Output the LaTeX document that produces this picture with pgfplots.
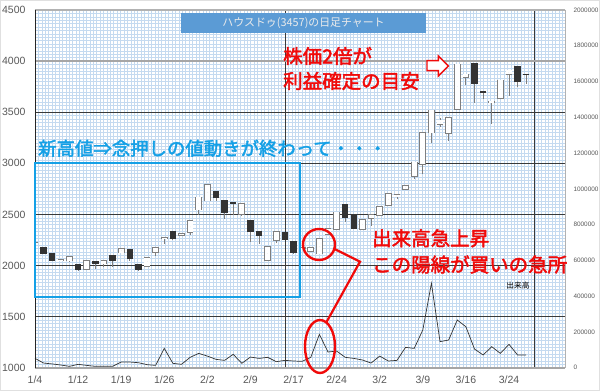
\documentclass[border=0pt]{standalone}
\usepackage{fontspec}
\setmainfont{Liberation Sans}
\newfontfamily\jp{Noto Sans CJK JP}
\newfontfamily\jpb{Noto Sans CJK JP}[FakeBold=2.2]
\usepackage{pgfplots}
\pgfplotsset{compat=1.18}
\usepackage{pgfplotstable}

\definecolor{lbl}{HTML}{595959}
\definecolor{gridblue}{HTML}{C4DAF0}
\definecolor{majorgrid}{HTML}{3A3A3A}
\definecolor{wickc}{HTML}{7F7F7F}
\definecolor{candleblack}{HTML}{333333}
\definecolor{candleedge}{HTML}{7F7F7F}
\definecolor{titleblue}{HTML}{5B9BD5}
\definecolor{cyanblue}{RGB}{20,160,230}
\definecolor{annred}{RGB}{240,10,10}

\pgfplotsset{candle/.style={only marks, mark size=0pt, mark options={draw=none,fill=none}, forget plot}}

\pgfplotstableread{
i o h l c
0 2205 2228 2200 2225
3 2050 2060 2048 2057
4 2047 2085 2030 2082
6 1962 2050 1960 2047
8 2018 2050 1990 2047
10 2125 2162 2122 2160
13 1994 2078 1992 2076
14 2128 2175 2090 2173
15 2264 2275 2206 2270
17 2296 2315 2284 2313
18 2326 2440 2300 2437
19 2547 2670 2495 2667
20 2635 2800 2630 2788
24 2505 2605 2480 2602
27 2050 2182 2048 2179
28 2251 2332 2225 2329
31 2170 2185 2160 2175
32 2137 2175 2135 2173
33 2115 2265 2112 2261
34 2310 2362 2308 2360
35 2359 2523 2357 2521
38 2359 2448 2357 2446
39 2466 2498 2390 2495
40 2495 2578 2480 2576
41 2593 2703 2590 2700
42 2680 2690 2651 2688
43 2749 2784 2740 2781
44 2871 3010 2846 3008
45 2992 3302 2900 3300
46 3300 3522 3203 3519
47 3382 3440 3352 3421
48 3295 3450 3219 3447
49 3528 3975 3525 3967
50 3843 3872 3762 3870
53 3600 3607 3388 3606
54 3641 3813 3639 3811
55 3870 3912 3660 3909
}\up

\pgfplotstableread{
i o h l c
1 2179 2185 2110 2118
2 2115 2118 2045 2050
5 2008 2010 1948 1955
7 2043 2045 1970 2018
9 2101 2105 1990 2050
11 2160 2162 2043 2066
12 2013 2015 1950 1955
16 2335 2337 2250 2267
21 2725 2728 2635 2667
22 2641 2645 2456 2515
23 2616 2620 2495 2610
25 2446 2450 2228 2326
26 2332 2335 2212 2296
29 2322 2325 2250 2254
30 2235 2238 2110 2128
36 2595 2598 2423 2472
37 2495 2498 2362 2365
51 3977 3980 3593 3778
52 3707 3709 3625 3694
56 3951 3953 3746 3797
57 3872 3874 3778 3868
}\down

\pgfplotstableread{
i v
0 52000
1 26000
2 21000
3 15000
4 7600
5 18800
6 13000
7 7600
8 7600
9 7600
10 31700
11 31700
12 28000
13 17000
14 13000
15 108000
16 24400
17 18800
18 58000
19 80000
20 65000
21 46700
22 41000
23 74700
24 24400
25 59600
26 52000
27 58000
28 33700
29 41000
30 37400
31 35600
32 58000
33 186500
34 87700
35 93000
36 58000
37 52000
38 43000
39 26000
40 65000
41 37400
42 41000
43 113800
44 108000
45 210700
46 471700
47 145600
48 154900
49 266700
50 229000
51 104500
52 71000
53 117600
54 80000
55 130600
56 71000
57 71000
}\vol

\begin{document}
\begin{tikzpicture}
\useasboundingbox (-35pt,-23.3pt) rectangle (565pt,367.7pt);
\fill[white] (-35pt,-23.3pt) rectangle (565pt,367.7pt);

\begin{axis}[
  at={(0pt,0pt)}, anchor=south west,
  scale only axis, width=530pt, height=357.7pt,
  xmin=0, xmax=61.5, ymin=1000, ymax=4500,
  axis line style={draw=none},
  xtick={0,5,...,55},
  xticklabels={1/4,1/12,1/19,1/26,2/2,2/9,2/17,2/24,3/2,3/9,3/16,3/24},
  xticklabel style={font=\fontsize{10.5}{12}\selectfont, text=lbl, yshift=-5pt},
  ytick={1000,1500,...,4500},
  yticklabel style={font=\fontsize{10.5}{12}\selectfont, text=lbl, xshift=-6pt},
  /pgf/number format/assume math mode=true,
  /pgf/number format/1000 sep={},
  major tick length=0pt, minor tick length=0pt,
  ymajorgrids, xmajorgrids=false,
  minor ytick={1000,1033.3333,...,4500},
  minor xtick={0,0.39726,...,61.6},
  xminorgrids, yminorgrids,
  minor grid style={color=gridblue, line width=0.5pt},
  major grid style={color=majorgrid, line width=0.7pt},
  extra x ticks={29,58}, extra x tick labels={}, extra x tick style={grid=major},
]
\addplot[color=black!35, line width=1.8pt, forget plot] coordinates {(0,4000) (61.5,4000)};
% wicks
\addplot[candle, error bars/.cd, y dir=both, y explicit, error mark=none,
  error bar style={line width=0.9pt, draw=wickc}]
  table[x=i, y expr={(\thisrow{h}+\thisrow{l})/2}, y error expr={(\thisrow{h}-\thisrow{l})/2}] {\up};
\addplot[candle, error bars/.cd, y dir=both, y explicit, error mark=none,
  error bar style={line width=0.9pt, draw=wickc}]
  table[x=i, y expr={(\thisrow{h}+\thisrow{l})/2}, y error expr={(\thisrow{h}-\thisrow{l})/2}] {\down};
% black bodies
\addplot[candle, error bars/.cd, y dir=both, y explicit, error mark=none,
  error bar style={line width=6.5pt, draw=candleblack}]
  table[x=i, y expr={(\thisrow{o}+\thisrow{c})/2}, y error expr={abs(\thisrow{c}-\thisrow{o})/2+3}] {\down};
% white bodies: outline then fill
\addplot[candle, error bars/.cd, y dir=both, y explicit, error mark=none,
  error bar style={line width=6.7pt, draw=candleedge}]
  table[x=i, y expr={(\thisrow{o}+\thisrow{c})/2}, y error expr={abs(\thisrow{c}-\thisrow{o})/2+7}] {\up};
\addplot[candle, error bars/.cd, y dir=both, y explicit, error mark=none,
  error bar style={line width=5.1pt, draw=white}]
  table[x=i, y expr={(\thisrow{o}+\thisrow{c})/2}, y error expr={abs(\thisrow{c}-\thisrow{o})/2}] {\up};
\end{axis}

\begin{axis}[
  at={(0pt,0pt)}, anchor=south west,
  scale only axis, width=530pt, height=357.7pt,
  xmin=0, xmax=61.5, ymin=0, ymax=2000000,
  axis x line=none, axis y line*=right,
  y axis line style={draw=none},
  ytick={0,200000,...,2000000},
  scaled y ticks=false,
  /pgf/number format/fixed,
  /pgf/number format/1000 sep={},
  /pgf/number format/assume math mode=true,
  yticklabel style={font=\fontsize{6.4}{7}\selectfont, text=lbl, anchor=west, xshift=5pt},
  major tick length=0pt,
]
\addplot[color=black!80, line width=0.7pt] table[x=i, y=v] {\vol};
\end{axis}

\begin{scope}[shift={(-35pt,367.7pt)}, x=1pt, y=-1pt]
  % frame
  \draw[black!12, line width=1pt] (0.5,0.5) rectangle (599.5,390.5);
  \draw[black!30, line width=1.2pt] (35,10) -- (565,10);
  \draw[black!35, line width=1.8pt] (35,367.7) -- (565,367.7);
  \draw[black!30, line width=1pt] (565,10) -- (565,367.7);
  \draw[black!85, line width=0.8pt] (35,10) -- (35,367.7);
  % title
  \fill[titleblue] (181,13.3) rectangle (426,33.3);
  \node[text=white!92!black, font=\jp\fontsize{10.9}{12}\selectfont, inner sep=0pt] at (303.5,23.5) {ハウスドゥ(3457)の日足チャート};
  % red upper text
  \node[anchor=west, inner sep=0pt, text=annred, font=\jpb\fontsize{19.5}{22}\selectfont] at (283,56) {株価2倍が};
  \node[anchor=west, inner sep=0pt, text=annred, font=\jpb\fontsize{19.5}{22}\selectfont] at (283,81) {利益確定の目安};
  % arrow
  \draw[annred, line width=1.4pt, fill=white, line join=miter]
    (427,60.7) -- (438.3,60.7) -- (438.3,56) -- (448.3,66) -- (438.3,76) -- (438.3,70.7) -- (427,70.7) -- cycle;
  % blue text and box
  \node[anchor=west, inner sep=0pt, text=cyanblue, font=\jpb\fontsize{18.4}{22}\selectfont] at (38,148.3) {新高値⇒念押しの値動きが終わって・・・};
  \draw[cyanblue, line width=1.8pt] (35,163.3) rectangle (300,296.7);
  % red lower text
  \node[anchor=west, inner sep=0pt, text=annred, font=\jpb\fontsize{19.5}{22}\selectfont] at (372,238.3) {出来高急上昇};
  \node[anchor=west, inner sep=0pt, text=annred, font=\jpb\fontsize{19.5}{22}\selectfont] at (372,264.5) {この陽線が買いの急所};
  % ellipses and connector
  \draw[annred, line width=2.4pt] (319,244.5) ellipse [x radius=16, y radius=15.5];
  \draw[annred, line width=2.4pt] (320,346.5) ellipse [x radius=15, y radius=26.5];
  \draw[annred, line width=2.2pt] (333.3,248.3) -- (360,261.7) -- (326.7,321.7);
  % volume label
  \node[inner sep=0pt, font=\jp\fontsize{7.7}{9}\selectfont] at (518,286) {出来高};
\end{scope}
\end{tikzpicture}
\end{document}
